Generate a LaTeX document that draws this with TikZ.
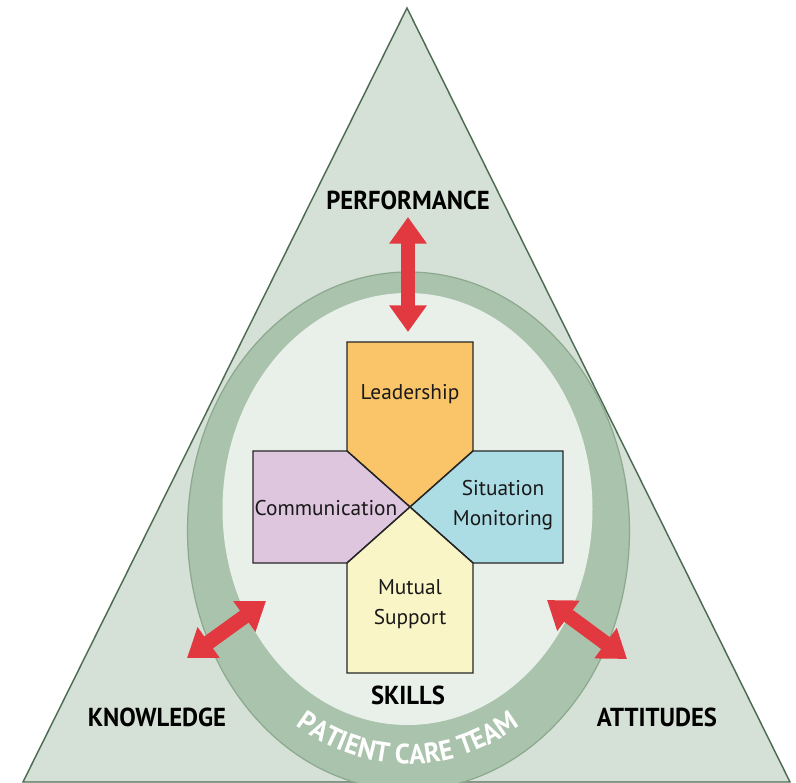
\documentclass[tikz,border=0pt]{standalone}
\usepackage{fontspec}
\setmainfont{PT Sans}
\newfontfamily\labelfont[FakeStretch=0.95]{PT Sans}
\usetikzlibrary{arrows.meta,decorations.text}
\definecolor{trifill}{RGB}{213,225,214}
\definecolor{triedge}{RGB}{78,108,84}
\definecolor{ringfill}{RGB}{170,195,172}
\definecolor{ringedge}{RGB}{140,168,143}
\definecolor{innerfill}{RGB}{233,240,234}
\definecolor{leadfill}{RGB}{250,197,105}
\definecolor{commfill}{RGB}{221,198,222}
\definecolor{sitfill}{RGB}{172,220,228}
\definecolor{mutfill}{RGB}{250,245,198}
\definecolor{arrowred}{RGB}{226,56,64}
\tikzset{
  piece/.style={draw=black!85, line width=1.1pt, line join=miter},
  boxtext/.style={font=\fontsize{16}{23}\selectfont, align=center, text=black!90, inner sep=0pt},
  biglabel/.style={font=\labelfont\bfseries\fontsize{19.5}{20}\selectfont, text=black, inner sep=0pt},
  dblarrow/.style={draw=arrowred, line width=11pt,
    {Triangle[length=20pt,width=27pt]}-{Triangle[length=20pt,width=27pt]}}
}
\begin{document}
\begin{tikzpicture}[x=0.75pt,y=-0.75pt]
\useasboundingbox (0,0) rectangle (796,782);
\clip (0,0) rectangle (796,782);
% triangle
\draw[fill=trifill, draw=triedge, line width=1.1pt] (407,8) -- (790,782) -- (23,782) -- cycle;
% ring
\draw[fill=ringfill, draw=ringedge, line width=0.9pt] (408.5,531) ellipse [x radius=221, y radius=259];
\fill[innerfill] (407.5,509) ellipse [x radius=185, y radius=216];
% ring text
\path[decorate, decoration={text along path, text align=center,
  text={|\labelfont\bfseries\fontsize{21}{22}\selectfont\color{white}|PATIENT CARE TEAM}}]
  (408,520) ++(160:208 and 244) arc[start angle=160, end angle=20, x radius=208, y radius=244];
% cross
\coordinate (c) at (410,507);
\filldraw[piece, fill=leadfill] (347,342) -- (473,342) -- (473,451) -- (c) -- (347,451) -- cycle;
\filldraw[piece, fill=commfill] (253,451) -- (347,451) -- (c) -- (347,563) -- (253,563) -- cycle;
\filldraw[piece, fill=sitfill] (473,451) -- (563,451) -- (563,563) -- (473,563) -- (c) -- cycle;
\filldraw[piece, fill=mutfill] (347,563) -- (c) -- (473,563) -- (473,673) -- (347,673) -- cycle;
\node[boxtext] (lead) at (410,394) {Leadership};
\node[boxtext] (comm) at (326,508) {Communication};
\node[boxtext] (sit) at (503,505) {Situation\\Monitoring};
\node[boxtext] (mut) at (410,604) {Mutual\\Support};
% labels
\node[biglabel] (perf) at (408,200) {PERFORMANCE};
\node[biglabel] (skills) at (408,695) {SKILLS};
\node[biglabel] (know) at (157,717) {KNOWLEDGE};
\node[biglabel] (att) at (657,717) {ATTITUDES};
% arrows
\coordinate (pa) at (408,217);
\coordinate (pb) at (408,332);
\coordinate (ka) at (187,658);
\coordinate (kb) at (266,601);
\coordinate (aa) at (547,600);
\coordinate (ab) at (627,659);
\draw[dblarrow] (pa) -- (pb);
\draw[dblarrow] (ka) -- (kb);
\draw[dblarrow] (aa) -- (ab);
\end{tikzpicture}
\end{document}
